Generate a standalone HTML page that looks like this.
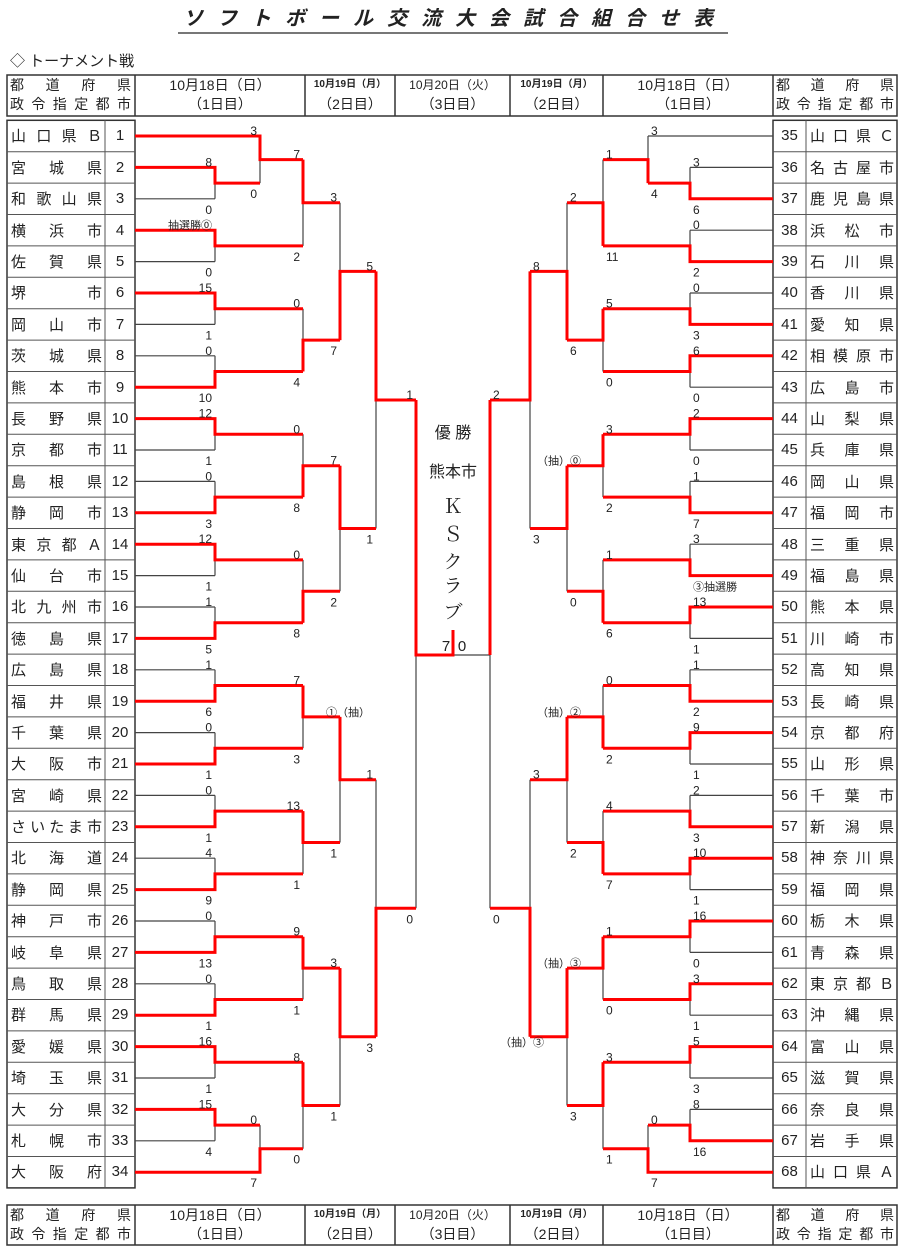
<!DOCTYPE html>
<html><head><meta charset="utf-8">
<style>
*{margin:0;padding:0;box-sizing:border-box}
body{width:900px;height:1253px;background:#fff;position:relative;overflow:hidden;font-family:"Liberation Sans","Noto Sans CJK JP",sans-serif;color:#222}
.abs{position:absolute}
.tbl{position:absolute;top:120.3px;display:flex;flex-direction:column}
.row{height:31.4px;display:flex;align-items:center;font-size:15px}
.nm{text-align:justify;text-align-last:justify;padding:0 3px 0 4px}
.no{text-align:center}
.hd{position:absolute;font-size:14px;text-align:center;line-height:18px}
.hj{text-align:justify;text-align-last:justify}
svg text{font-family:"Liberation Sans","Noto Sans CJK JP",sans-serif}
</style></head><body>

<div class="abs" style="left:170px;top:2px;width:570px;text-align:center;font-size:20px;font-style:italic;font-weight:bold;letter-spacing:14px;color:#222">ソフトボール交流大会試合組合せ表</div>
<div class="abs" style="left:178px;top:32px;width:550px;height:2px;background:#777"></div>
<div class="abs" style="left:10px;top:50px;font-size:15px">◇ トーナメント戦</div>

<div class="hd hj" style="left:10px;top:76px;width:121px">都　道　府　県</div>
<div class="hd hj" style="left:10px;top:95px;width:121px">政令指定都市</div>
<div class="hd" style="left:135px;top:76px;width:170px">10月18日（日）</div>
<div class="hd" style="left:135px;top:95px;width:170px">（1日目）</div>
<div class="hd" style="left:305px;top:76px;width:90px;font-size:10px;font-weight:bold">10月19日（月）</div>
<div class="hd" style="left:305px;top:95px;width:90px">（2日目）</div>
<div class="hd" style="left:395px;top:76px;width:115px;font-size:12px">10月20日（火）</div>
<div class="hd" style="left:395px;top:95px;width:115px">（3日目）</div>
<div class="hd" style="left:510px;top:76px;width:93px;font-size:10px;font-weight:bold">10月19日（月）</div>
<div class="hd" style="left:510px;top:95px;width:93px">（2日目）</div>
<div class="hd" style="left:603px;top:76px;width:170px">10月18日（日）</div>
<div class="hd" style="left:603px;top:95px;width:170px">（1日目）</div>
<div class="hd hj" style="left:776px;top:76px;width:118px">都　道　府　県</div>
<div class="hd hj" style="left:776px;top:95px;width:118px">政令指定都市</div>
<div class="hd hj" style="left:10px;top:1206px;width:121px">都　道　府　県</div>
<div class="hd hj" style="left:10px;top:1225px;width:121px">政令指定都市</div>
<div class="hd" style="left:135px;top:1206px;width:170px">10月18日（日）</div>
<div class="hd" style="left:135px;top:1225px;width:170px">（1日目）</div>
<div class="hd" style="left:305px;top:1206px;width:90px;font-size:10px;font-weight:bold">10月19日（月）</div>
<div class="hd" style="left:305px;top:1225px;width:90px">（2日目）</div>
<div class="hd" style="left:395px;top:1206px;width:115px;font-size:12px">10月20日（火）</div>
<div class="hd" style="left:395px;top:1225px;width:115px">（3日目）</div>
<div class="hd" style="left:510px;top:1206px;width:93px;font-size:10px;font-weight:bold">10月19日（月）</div>
<div class="hd" style="left:510px;top:1225px;width:93px">（2日目）</div>
<div class="hd" style="left:603px;top:1206px;width:170px">10月18日（日）</div>
<div class="hd" style="left:603px;top:1225px;width:170px">（1日目）</div>
<div class="hd hj" style="left:776px;top:1206px;width:118px">都　道　府　県</div>
<div class="hd hj" style="left:776px;top:1225px;width:118px">政令指定都市</div>

<div class="tbl" style="left:7px;width:128px">
<div class="row"><span class="nm" style="width:98px">山口県Ｂ</span><span class="no" style="width:30px">1</span></div>
<div class="row"><span class="nm" style="width:98px">宮城県</span><span class="no" style="width:30px">2</span></div>
<div class="row"><span class="nm" style="width:98px">和歌山県</span><span class="no" style="width:30px">3</span></div>
<div class="row"><span class="nm" style="width:98px">横浜市</span><span class="no" style="width:30px">4</span></div>
<div class="row"><span class="nm" style="width:98px">佐賀県</span><span class="no" style="width:30px">5</span></div>
<div class="row"><span class="nm" style="width:98px">堺市</span><span class="no" style="width:30px">6</span></div>
<div class="row"><span class="nm" style="width:98px">岡山市</span><span class="no" style="width:30px">7</span></div>
<div class="row"><span class="nm" style="width:98px">茨城県</span><span class="no" style="width:30px">8</span></div>
<div class="row"><span class="nm" style="width:98px">熊本市</span><span class="no" style="width:30px">9</span></div>
<div class="row"><span class="nm" style="width:98px">長野県</span><span class="no" style="width:30px">10</span></div>
<div class="row"><span class="nm" style="width:98px">京都市</span><span class="no" style="width:30px">11</span></div>
<div class="row"><span class="nm" style="width:98px">島根県</span><span class="no" style="width:30px">12</span></div>
<div class="row"><span class="nm" style="width:98px">静岡市</span><span class="no" style="width:30px">13</span></div>
<div class="row"><span class="nm" style="width:98px">東京都Ａ</span><span class="no" style="width:30px">14</span></div>
<div class="row"><span class="nm" style="width:98px">仙台市</span><span class="no" style="width:30px">15</span></div>
<div class="row"><span class="nm" style="width:98px">北九州市</span><span class="no" style="width:30px">16</span></div>
<div class="row"><span class="nm" style="width:98px">徳島県</span><span class="no" style="width:30px">17</span></div>
<div class="row"><span class="nm" style="width:98px">広島県</span><span class="no" style="width:30px">18</span></div>
<div class="row"><span class="nm" style="width:98px">福井県</span><span class="no" style="width:30px">19</span></div>
<div class="row"><span class="nm" style="width:98px">千葉県</span><span class="no" style="width:30px">20</span></div>
<div class="row"><span class="nm" style="width:98px">大阪市</span><span class="no" style="width:30px">21</span></div>
<div class="row"><span class="nm" style="width:98px">宮崎県</span><span class="no" style="width:30px">22</span></div>
<div class="row"><span class="nm" style="width:98px">さいたま市</span><span class="no" style="width:30px">23</span></div>
<div class="row"><span class="nm" style="width:98px">北海道</span><span class="no" style="width:30px">24</span></div>
<div class="row"><span class="nm" style="width:98px">静岡県</span><span class="no" style="width:30px">25</span></div>
<div class="row"><span class="nm" style="width:98px">神戸市</span><span class="no" style="width:30px">26</span></div>
<div class="row"><span class="nm" style="width:98px">岐阜県</span><span class="no" style="width:30px">27</span></div>
<div class="row"><span class="nm" style="width:98px">鳥取県</span><span class="no" style="width:30px">28</span></div>
<div class="row"><span class="nm" style="width:98px">群馬県</span><span class="no" style="width:30px">29</span></div>
<div class="row"><span class="nm" style="width:98px">愛媛県</span><span class="no" style="width:30px">30</span></div>
<div class="row"><span class="nm" style="width:98px">埼玉県</span><span class="no" style="width:30px">31</span></div>
<div class="row"><span class="nm" style="width:98px">大分県</span><span class="no" style="width:30px">32</span></div>
<div class="row"><span class="nm" style="width:98px">札幌市</span><span class="no" style="width:30px">33</span></div>
<div class="row"><span class="nm" style="width:98px">大阪府</span><span class="no" style="width:30px">34</span></div>
</div>

<div class="tbl" style="left:773px;width:124px">
<div class="row"><span class="no" style="width:33px">35</span><span class="nm" style="width:91px">山口県Ｃ</span></div>
<div class="row"><span class="no" style="width:33px">36</span><span class="nm" style="width:91px">名古屋市</span></div>
<div class="row"><span class="no" style="width:33px">37</span><span class="nm" style="width:91px">鹿児島県</span></div>
<div class="row"><span class="no" style="width:33px">38</span><span class="nm" style="width:91px">浜松市</span></div>
<div class="row"><span class="no" style="width:33px">39</span><span class="nm" style="width:91px">石川県</span></div>
<div class="row"><span class="no" style="width:33px">40</span><span class="nm" style="width:91px">香川県</span></div>
<div class="row"><span class="no" style="width:33px">41</span><span class="nm" style="width:91px">愛知県</span></div>
<div class="row"><span class="no" style="width:33px">42</span><span class="nm" style="width:91px">相模原市</span></div>
<div class="row"><span class="no" style="width:33px">43</span><span class="nm" style="width:91px">広島市</span></div>
<div class="row"><span class="no" style="width:33px">44</span><span class="nm" style="width:91px">山梨県</span></div>
<div class="row"><span class="no" style="width:33px">45</span><span class="nm" style="width:91px">兵庫県</span></div>
<div class="row"><span class="no" style="width:33px">46</span><span class="nm" style="width:91px">岡山県</span></div>
<div class="row"><span class="no" style="width:33px">47</span><span class="nm" style="width:91px">福岡市</span></div>
<div class="row"><span class="no" style="width:33px">48</span><span class="nm" style="width:91px">三重県</span></div>
<div class="row"><span class="no" style="width:33px">49</span><span class="nm" style="width:91px">福島県</span></div>
<div class="row"><span class="no" style="width:33px">50</span><span class="nm" style="width:91px">熊本県</span></div>
<div class="row"><span class="no" style="width:33px">51</span><span class="nm" style="width:91px">川崎市</span></div>
<div class="row"><span class="no" style="width:33px">52</span><span class="nm" style="width:91px">高知県</span></div>
<div class="row"><span class="no" style="width:33px">53</span><span class="nm" style="width:91px">長崎県</span></div>
<div class="row"><span class="no" style="width:33px">54</span><span class="nm" style="width:91px">京都府</span></div>
<div class="row"><span class="no" style="width:33px">55</span><span class="nm" style="width:91px">山形県</span></div>
<div class="row"><span class="no" style="width:33px">56</span><span class="nm" style="width:91px">千葉市</span></div>
<div class="row"><span class="no" style="width:33px">57</span><span class="nm" style="width:91px">新潟県</span></div>
<div class="row"><span class="no" style="width:33px">58</span><span class="nm" style="width:91px">神奈川県</span></div>
<div class="row"><span class="no" style="width:33px">59</span><span class="nm" style="width:91px">福岡県</span></div>
<div class="row"><span class="no" style="width:33px">60</span><span class="nm" style="width:91px">栃木県</span></div>
<div class="row"><span class="no" style="width:33px">61</span><span class="nm" style="width:91px">青森県</span></div>
<div class="row"><span class="no" style="width:33px">62</span><span class="nm" style="width:91px">東京都Ｂ</span></div>
<div class="row"><span class="no" style="width:33px">63</span><span class="nm" style="width:91px">沖縄県</span></div>
<div class="row"><span class="no" style="width:33px">64</span><span class="nm" style="width:91px">富山県</span></div>
<div class="row"><span class="no" style="width:33px">65</span><span class="nm" style="width:91px">滋賀県</span></div>
<div class="row"><span class="no" style="width:33px">66</span><span class="nm" style="width:91px">奈良県</span></div>
<div class="row"><span class="no" style="width:33px">67</span><span class="nm" style="width:91px">岩手県</span></div>
<div class="row"><span class="no" style="width:33px">68</span><span class="nm" style="width:91px">山口県Ａ</span></div>
</div>

<svg class="abs" style="left:0;top:0" width="900" height="1253" viewBox="0 0 900 1253">
<g fill="none" stroke="#333" stroke-width="1.5">
<rect x="7" y="75" width="890" height="41"/>
<rect x="7" y="1205" width="890" height="40"/>
<path d="M135 75V116M305 75V116M395 75V116M510 75V116M603 75V116M773 75V116M135 1205V1245M305 1205V1245M395 1205V1245M510 1205V1245M603 1205V1245M773 1205V1245"/>
<rect x="7" y="120.3" width="128" height="1067.6"/>
<rect x="773" y="120.3" width="124" height="1067.6"/>
</g>
<g stroke="#555" stroke-width="1">
<path d="M105 120.3V1187.9M806 120.3V1187.9
M7 151.7H135M7 183.1H135M7 214.5H135M7 245.9H135M7 277.3H135M7 308.7H135M7 340.1H135M7 371.5H135M7 402.9H135M7 434.3H135M7 465.7H135M7 497.1H135M7 528.5H135M7 559.9H135M7 591.3H135M7 622.7H135M7 654.1H135M7 685.5H135M7 716.9H135M7 748.3H135M7 779.7H135M7 811.1H135M7 842.5H135M7 873.9H135M7 905.3H135M7 936.7H135M7 968.1H135M7 999.5H135M7 1030.9H135M7 1062.3H135M7 1093.7H135M7 1125.1H135M7 1156.5H135
M773 151.7H897M773 183.1H897M773 214.5H897M773 245.9H897M773 277.3H897M773 308.7H897M773 340.1H897M773 371.5H897M773 402.9H897M773 434.3H897M773 465.7H897M773 497.1H897M773 528.5H897M773 559.9H897M773 591.3H897M773 622.7H897M773 654.1H897M773 685.5H897M773 716.9H897M773 748.3H897M773 779.7H897M773 811.1H897M773 842.5H897M773 873.9H897M773 905.3H897M773 936.7H897M773 968.1H897M773 999.5H897M773 1030.9H897M773 1062.3H897M773 1093.7H897M773 1125.1H897M773 1156.5H897"/>
</g>

<g fill="none" stroke="#444" stroke-width="1.2">
<path d="M135 136H260M135 167.4H215M135 198.8H215M135 230.2H215M135 261.6H215M135 293H215M135 324.4H215M135 355.8H215M135 387.2H215M135 418.6H215M135 450H215M135 481.4H215M135 512.8H215M135 544.2H215M135 575.6H215M135 607H215M135 638.4H215M135 669.8H215M135 701.2H215M135 732.6H215M135 764H215M135 795.4H215M135 826.8H215M135 858.2H215M135 889.6H215M135 921H215M135 952.4H215M135 983.8H215M135 1015.2H215M135 1046.6H215M135 1078H215M135 1109.4H215M135 1140.8H215M135 1172.2H260"/>
<path d="M773 136H648M773 167.4H690M773 198.8H690M773 230.2H690M773 261.6H690M773 293H690M773 324.4H690M773 355.8H690M773 387.2H690M773 418.6H690M773 450H690M773 481.4H690M773 512.8H690M773 544.2H690M773 575.6H690M773 607H690M773 638.4H690M773 669.8H690M773 701.2H690M773 732.6H690M773 764H690M773 795.4H690M773 826.8H690M773 858.2H690M773 889.6H690M773 921H690M773 952.4H690M773 983.8H690M773 1015.2H690M773 1046.6H690M773 1078H690M773 1109.4H690M773 1140.8H690M773 1172.2H648"/>
<path d="M215 167.4V198.8M260 136V183.1M215 230.2V261.6M303 159.6V245.9M215 293V324.4M215 355.8V387.2M303 308.7V371.5M340 202.7V340.1M215 418.6V450M215 481.4V512.8M303 434.3V497.1M215 544.2V575.6M215 607V638.4M303 559.9V622.7M340 465.7V591.3M376 271.4V528.5M215 669.8V701.2M215 732.6V764M303 685.5V748.3M215 795.4V826.8M215 858.2V889.6M303 811.1V873.9M340 716.9V842.5M215 921V952.4M215 983.8V1015.2M303 936.7V999.5M215 1046.6V1078M215 1109.4V1140.8M260 1125.1V1172.2M303 1062.3V1148.7M340 968.1V1105.5M376 779.7V1036.8M416 400V908.3"/>
<path d="M690 167.4V198.8M648 136V183.1M690 230.2V261.6M603 159.6V245.9M690 293V324.4M690 355.8V387.2M603 308.7V371.5M567 202.7V340.1M690 418.6V450M690 481.4V512.8M603 434.3V497.1M690 544.2V575.6M690 607V638.4M603 559.9V622.7M567 465.7V591.3M530 271.4V528.5M690 669.8V701.2M690 732.6V764M603 685.5V748.3M690 795.4V826.8M690 858.2V889.6M603 811.1V873.9M567 716.9V842.5M690 921V952.4M690 983.8V1015.2M603 936.7V999.5M690 1046.6V1078M690 1109.4V1140.8M648 1125.1V1172.2M603 1062.3V1148.7M567 968.1V1105.5M530 779.7V1036.8M490 400V908.3M453 655H490"/>
</g>

<g fill="none" stroke="#ff0000" stroke-width="3">
<path d="M135 167.4H215V183.1H260M135 136H260V159.6H303M135 230.2H215V245.9H303M303 159.6V202.7H340M135 293H215V308.7H303M135 387.2H215V371.5H303M303 371.5V340.1H340M340 340.1V271.4H376M135 418.6H215V434.3H303M135 512.8H215V497.1H303M303 497.1V465.7H340M135 544.2H215V559.9H303M135 638.4H215V622.7H303M303 622.7V591.3H340M340 465.7V528.5H376M376 271.4V400H416M416 400V655H453V630"/>
<path d="M135 701.2H215V685.5H303M135 764H215V748.3H303M303 685.5V716.9H340M135 826.8H215V811.1H303M135 889.6H215V873.9H303M303 811.1V842.5H340M340 716.9V779.7H376M135 952.4H215V936.7H303M135 1015.2H215V999.5H303M303 936.7V968.1H340M135 1046.6H215V1062.3H303M135 1109.4H215V1125.1H260M135 1172.2H260V1148.7H303M303 1062.3V1105.5H340M340 968.1V1036.8H376M376 1036.8V908.3H416"/>
<path d="M773 198.8H690V183.1H648M648 183.1V159.6H603M773 261.6H690V245.9H603M603 245.9V202.7H567M773 324.4H690V308.7H603M773 355.8H690V371.5H603M603 308.7V340.1H567M567 340.1V271.4H530M773 418.6H690V434.3H603M773 512.8H690V497.1H603M603 434.3V465.7H567M773 575.6H690V559.9H603M773 607H690V622.7H603M603 622.7V591.3H567M567 465.7V528.5H530M530 271.4V400H490M490 400V655"/>
<path d="M773 701.2H690V685.5H603M773 732.6H690V748.3H603M603 748.3V716.9H567M773 826.8H690V811.1H603M773 858.2H690V873.9H603M603 873.9V842.5H567M567 716.9V779.7H530M773 921H690V936.7H603M773 983.8H690V999.5H603M603 936.7V968.1H567M773 1046.6H690V1062.3H603M773 1140.8H690V1125.1H648M773 1172.2H648V1148.7H603M603 1062.3V1105.5H567M567 968.1V1036.8H530M530 1036.8V908.3H490"/>
</g>

<g font-size="12" fill="#222" text-anchor="end">
<text x="212" y="166.4">8</text><text x="212" y="213.8">0</text>
<text x="257" y="135">3</text><text x="257" y="198.1">0</text>
<text x="212" y="229.2" font-size="11">抽選勝⓪</text><text x="212" y="276.6">0</text>
<text x="300" y="158.6">7</text><text x="300" y="260.9">2</text>
<text x="212" y="292">15</text><text x="212" y="339.4">1</text>
<text x="212" y="354.8">0</text><text x="212" y="402.2">10</text>
<text x="300" y="307.7">0</text><text x="300" y="386.5">4</text>
<text x="337" y="201.7">3</text><text x="337" y="355.1">7</text>
<text x="212" y="417.6">12</text><text x="212" y="465">1</text>
<text x="212" y="480.4">0</text><text x="212" y="527.8">3</text>
<text x="300" y="433.3">0</text><text x="300" y="512.1">8</text>
<text x="212" y="543.2">12</text><text x="212" y="590.6">1</text>
<text x="212" y="606">1</text><text x="212" y="653.4">5</text>
<text x="300" y="558.9">0</text><text x="300" y="637.7">8</text>
<text x="337" y="464.7">7</text><text x="337" y="606.3">2</text>
<text x="373" y="270.4">5</text><text x="373" y="543.5">1</text>
<text x="212" y="668.8">1</text><text x="212" y="716.2">6</text>
<text x="212" y="731.6">0</text><text x="212" y="779">1</text>
<text x="300" y="684.5">7</text><text x="300" y="763.3">3</text>
<text x="212" y="794.4">0</text><text x="212" y="841.8">1</text>
<text x="212" y="857.2">4</text><text x="212" y="904.6">9</text>
<text x="300" y="810.1">13</text><text x="300" y="888.9">1</text>
<text x="370" y="715.9" font-size="11">①（抽）</text><text x="337" y="857.5">1</text>
<text x="212" y="920">0</text><text x="212" y="967.4">13</text>
<text x="212" y="982.8">0</text><text x="212" y="1030.2">1</text>
<text x="300" y="935.7">9</text><text x="300" y="1014.5">1</text>
<text x="212" y="1045.6">16</text><text x="212" y="1093">1</text>
<text x="212" y="1108.4">15</text><text x="212" y="1155.8">4</text>
<text x="257" y="1124.1">0</text><text x="257" y="1187.2">7</text>
<text x="300" y="1061.3">8</text><text x="300" y="1163.7">0</text>
<text x="337" y="967.1">3</text><text x="337" y="1120.5">1</text>
<text x="373" y="778.7">1</text><text x="373" y="1051.8">3</text>
<text x="413" y="399">1</text><text x="413" y="923.3">0</text>
</g>

<g font-size="12" fill="#222">
<text x="693" y="166.4">3</text><text x="693" y="213.8">6</text>
<text x="651" y="135">3</text><text x="651" y="198.1">4</text>
<text x="693" y="229.2">0</text><text x="693" y="276.6">2</text>
<text x="606" y="158.6">1</text><text x="606" y="260.9">11</text>
<text x="693" y="292">0</text><text x="693" y="339.4">3</text>
<text x="693" y="354.8">6</text><text x="693" y="402.2">0</text>
<text x="606" y="307.7">5</text><text x="606" y="386.5">0</text>
<text x="570" y="201.7">2</text><text x="570" y="355.1">6</text>
<text x="693" y="417.6">2</text><text x="693" y="465">0</text>
<text x="693" y="480.4">1</text><text x="693" y="527.8">7</text>
<text x="606" y="433.3">3</text><text x="606" y="512.1">2</text>
<text x="693" y="543.2">3</text><text x="693" y="590.6" font-size="11">③抽選勝</text>
<text x="693" y="606">13</text><text x="693" y="653.4">1</text>
<text x="606" y="558.9">1</text><text x="606" y="637.7">6</text>
<text x="537" y="464.7" font-size="11">（抽）⓪</text><text x="570" y="606.3">0</text>
<text x="533" y="270.4">8</text><text x="533" y="543.5">3</text>
<text x="693" y="668.8">1</text><text x="693" y="716.2">2</text>
<text x="693" y="731.6">9</text><text x="693" y="779">1</text>
<text x="606" y="684.5">0</text><text x="606" y="763.3">2</text>
<text x="693" y="794.4">2</text><text x="693" y="841.8">3</text>
<text x="693" y="857.2">10</text><text x="693" y="904.6">1</text>
<text x="606" y="810.1">4</text><text x="606" y="888.9">7</text>
<text x="537" y="715.9" font-size="11">（抽）②</text><text x="570" y="857.5">2</text>
<text x="693" y="920">16</text><text x="693" y="967.4">0</text>
<text x="693" y="982.8">3</text><text x="693" y="1030.2">1</text>
<text x="606" y="935.7">1</text><text x="606" y="1014.5">0</text>
<text x="693" y="1045.6">5</text><text x="693" y="1093">3</text>
<text x="693" y="1108.4">8</text><text x="693" y="1155.8">16</text>
<text x="651" y="1124.1">0</text><text x="651" y="1187.2">7</text>
<text x="606" y="1061.3">3</text><text x="606" y="1163.7">1</text>
<text x="537" y="967.1" font-size="11">（抽）③</text><text x="570" y="1120.5">3</text>
<text x="533" y="778.7">3</text><text x="500" y="1046" font-size="11">（抽）③</text>
<text x="493" y="399">2</text><text x="493" y="923.3">0</text>
</g>

<g fill="#222" text-anchor="middle">
<text x="453" y="438" font-size="16">優 勝</text>
<text x="453" y="477" font-size="16">熊本市</text>
<text x="453" y="513" font-size="20" style="font-family:'Liberation Serif','Noto Serif CJK SC',serif">Ｋ</text>
<text x="453" y="541" font-size="20" style="font-family:'Liberation Serif','Noto Serif CJK SC',serif">Ｓ</text>
<text x="453" y="568" font-size="19" style="font-family:'Liberation Serif','Noto Serif CJK SC',serif">ク</text>
<text x="453" y="592" font-size="19" style="font-family:'Liberation Serif','Noto Serif CJK SC',serif">ラ</text>
<text x="453" y="618" font-size="19" style="font-family:'Liberation Serif','Noto Serif CJK SC',serif">ブ</text>
<text x="446" y="651" font-size="15">7</text>
<text x="462" y="651" font-size="15">0</text>
</g>
</svg>
</body></html>
